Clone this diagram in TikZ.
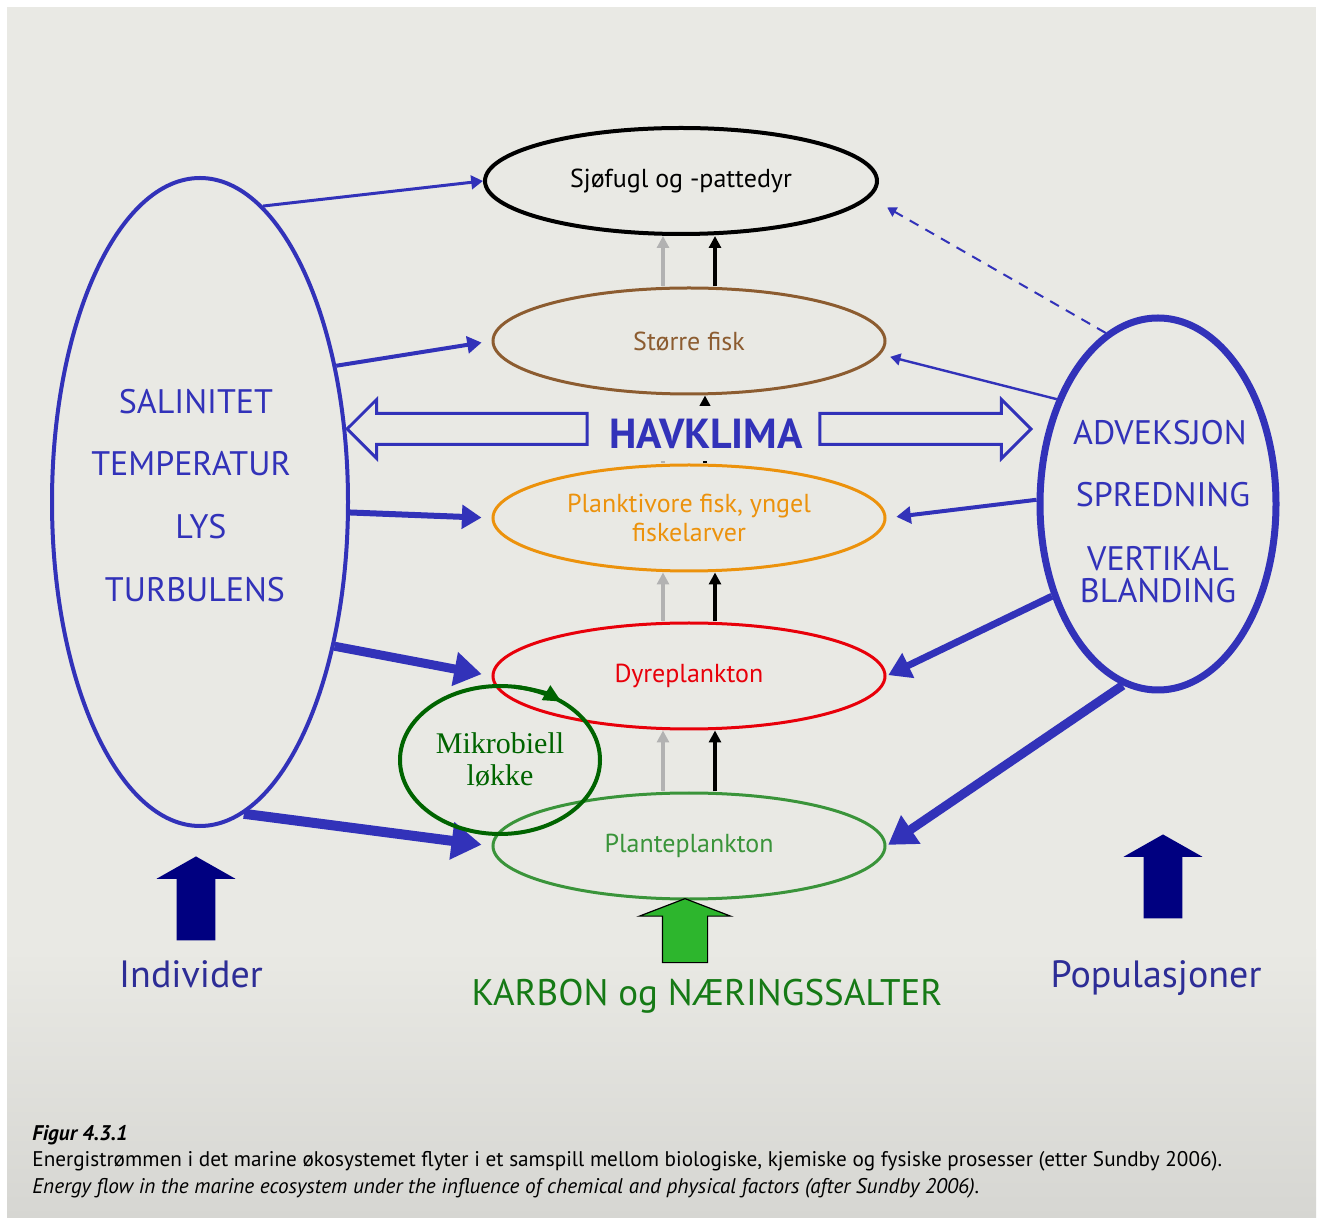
\documentclass[tikz,border=0pt]{standalone}
\usepackage{fontspec}
\setmainfont{PT Sans}
\newfontfamily\serifa{Liberation Serif}
\usetikzlibrary{positioning}
\usetikzlibrary{arrows.meta}
\usetikzlibrary{shapes.geometric}
\usetikzlibrary{shapes.arrows}

\definecolor{bg}{RGB}{233,233,228}
\definecolor{bgdark}{RGB}{214,214,210}
\definecolor{blu}{RGB}{50,50,185}
\definecolor{blutext}{RGB}{45,45,150}
\definecolor{navy}{RGB}{0,0,128}
\definecolor{brun}{RGB}{140,92,48}
\definecolor{oransje}{RGB}{236,146,12}
\definecolor{rod}{RGB}{232,0,10}
\definecolor{gronn}{RGB}{58,148,58}
\definecolor{morkgronn}{RGB}{0,100,0}
\definecolor{karbon}{RGB}{22,122,22}
\definecolor{lysgronn}{RGB}{45,182,45}
\definecolor{gra}{RGB}{178,178,178}

\tikzset{
	niva/.style={ellipse,draw,line width=1.5pt,inner sep=0pt,minimum width=196pt,minimum height=53pt,font=\fontsize{13}{14.5}\selectfont},
	pil/.style={draw=blu,line width=#1,-{Triangle[length=2pt 2.6,width=2pt 3.2]}},
	opp/.style={line width=1.6pt,-{Triangle[length=6pt,width=6pt]}},
	blokk/.style={single arrow,rotate=90,anchor=tip,inner xsep=0pt,inner ysep=9.5pt,minimum height=42pt,single arrow head extend=10pt,single arrow tip angle=121,fill=navy,draw=none},
	hul/.style={single arrow,inner xsep=0pt,inner ysep=7pt,single arrow head extend=7pt,draw=blu,line width=1.5pt,fill=bg,anchor=tip},
	stor/.style={text=blu,font=\fontsize{17}{19}\selectfont}
}

\begin{document}
\begin{tikzpicture}[x=0.5pt,y=-0.5pt]
				\useasboundingbox (0,0) rectangle (1317,1218);
				\fill[white] (0,0) rectangle (1317,1218);
				\fill[bg] (7,7) rectangle (1316,950);
				\shade[top color=bg,bottom color=bgdark] (7,949) rectangle (1316,1218);
				
				\node[niva,line width=2pt] (Sj) at (681,181) {Sjøfugl og -pattedyr};
				\node[niva,draw=brun,text=brun] (Fi) at (689,341) {Større fisk};
				\node[niva,draw=oransje,text=oransje,align=center] (Pl) at (689,518) {Planktivore fisk, yngel\\fiskelarver};
				\node[niva,draw=rod,text=rod] (Dy) at (689,676) {Dyreplankton};
				\node[niva,draw=gronn,text=gronn] (Pt) at (689,846) {Planteplankton};
				
				\node[ellipse,draw=blu,line width=2pt,minimum width=148pt,minimum height=324pt,inner sep=0pt] (L) at (200,502) {};
				\node[ellipse,draw=blu,line width=3.5pt,minimum width=118pt,minimum height=186pt,inner sep=0pt] (R) at (1158,504) {};
				
				\node[stor] (Sal) at (196,402) {SALINITET};
				\node[stor] (Tem) at (191,464) {TEMPERATUR};
				\node[stor] (Lys) at (201,527) {LYS};
				\node[stor] (Tur) at (195,590) {TURBULENS};
				\node[stor] (Adv) at (1160,433) {ADVEKSJON};
				\node[stor] (Spr) at (1163,495) {SPREDNING};
				\node[stor,align=center] (Ver) at (1158,575) {VERTIKAL\\[-3pt]BLANDING};
				
				\draw[gra,opp] ([xshift=-13pt]Pt.north) -- ([xshift=-13pt]Dy.south);
				\draw[opp] ([xshift=13pt]Pt.north) -- ([xshift=13pt]Dy.south);
				\draw[gra,opp] ([xshift=-13pt]Dy.north) -- ([xshift=-13pt]Pl.south);
				\draw[opp] ([xshift=13pt]Dy.north) -- ([xshift=13pt]Pl.south);
				\draw[gra,opp,shorten >=8pt] ([xshift=-13pt]Pl.north) -- ([xshift=-13pt]Fi.south);
				\draw[opp] ([xshift=8pt]Pl.north) -- ([xshift=8pt]Fi.south);
				\draw[gra,opp] ([xshift=-13pt]Fi.north) -- ([xshift=-13pt]Fi.north |- Sj.south);
				\draw[opp] ([xshift=13pt]Fi.north) -- ([xshift=13pt]Fi.north |- Sj.south);
				
				\node[hul,shape border rotate=180,minimum height=120pt] (Hv) at (345,429) {};
				\node[hul,minimum height=105.5pt] (Hh) at (1033,429) {};
				\node[fill=bg,inner sep=0pt,minimum width=100pt,minimum height=27.5pt,text=blu,font=\fontsize{21}{23}\bfseries] (Hk) at (706,433.5) {HAVKLIMA};
				
				\draw[pil=1.5pt] (L.78) -- (Sj.west);
				\draw[pil=2pt,shorten >=5pt] (L.45) -- (Fi.west);
				\draw[pil=3pt,shorten >=5pt] (L.-4) -- (Pl.west);
				\draw[pil=4.5pt,shorten >=5pt] (L.-47) -- (Dy.west);
				\draw[pil=5pt,shorten >=5pt] (L.-82) -- (Pt.west);
				
				\draw[pil=1pt,dash pattern=on 5pt off 4pt,shorten >=10pt] (R.107) -- (Sj.-5);
				\draw[pil=1.2pt,shorten >=5pt] (R.134) -- (Fi.-4);
				\draw[pil=2pt,shorten >=5pt] (R.178) -- (Pl.east);
				\draw[pil=3.5pt,shorten >=1pt] (R.221) -- (Dy.east);
				\draw[pil=4.5pt,shorten >=1pt] (R.259) -- (Pt.east);
				
				\node[ellipse,draw=morkgronn,line width=2pt,minimum width=100pt,minimum height=74pt,inner sep=0pt,text=morkgronn,align=center,font=\serifa\fontsize{15}{16}\selectfont] (Mk) at (500,760) {Mikrobiell\\løkke};
				\draw[morkgronn,line width=2pt,-{Triangle[length=9pt,width=8pt]}] (Mk.center) ++(82:50pt and 37pt) arc[start angle=82,end angle=52,x radius=50pt,y radius=37pt];
				
				\node[blokk] (Bv) at (196,856) {};
				\node[blokk] (Bh) at (1163,834) {};
				\node[blokk,fill=lysgronn,draw=black,line width=0.6pt,inner ysep=11pt,minimum height=32pt,single arrow head extend=11.5pt,single arrow tip angle=138] (Gr) at (685,898) {};
				
				\node[anchor=base,text=blutext,font=\fontsize{19}{21}\selectfont] (Ind) at (191,987) {Individer};
				\node[anchor=base,text=blutext,font=\fontsize{19}{21}\selectfont] (Pop) at (1156,987) {Populasjoner};
				\node[anchor=base,text=karbon,font=\fontsize{18.5}{20}\selectfont] (Kar) at (707,1005) {KARBON og NÆRINGSSALTER};
				
				\node[anchor=west,inner xsep=0pt,font=\fontsize{10.6}{12}\bfseries\itshape] (Fig) at (32,1135) {Figur 4.3.1};
				\node[anchor=west,inner xsep=0pt,font=\fontsize{10.6}{12}\selectfont] (No) at (32,1161) {Energistrømmen i det marine økosystemet flyter i et samspill mellom biologiske, kjemiske og fysiske prosesser (etter Sundby 2006).};
				\node[anchor=west,inner xsep=0pt,font=\fontsize{10.6}{12}\itshape] (En) at (32,1188) {Energy flow in the marine ecosystem under the influence of chemical and physical factors (after Sundby 2006).};
			\end{tikzpicture}
\end{document}
